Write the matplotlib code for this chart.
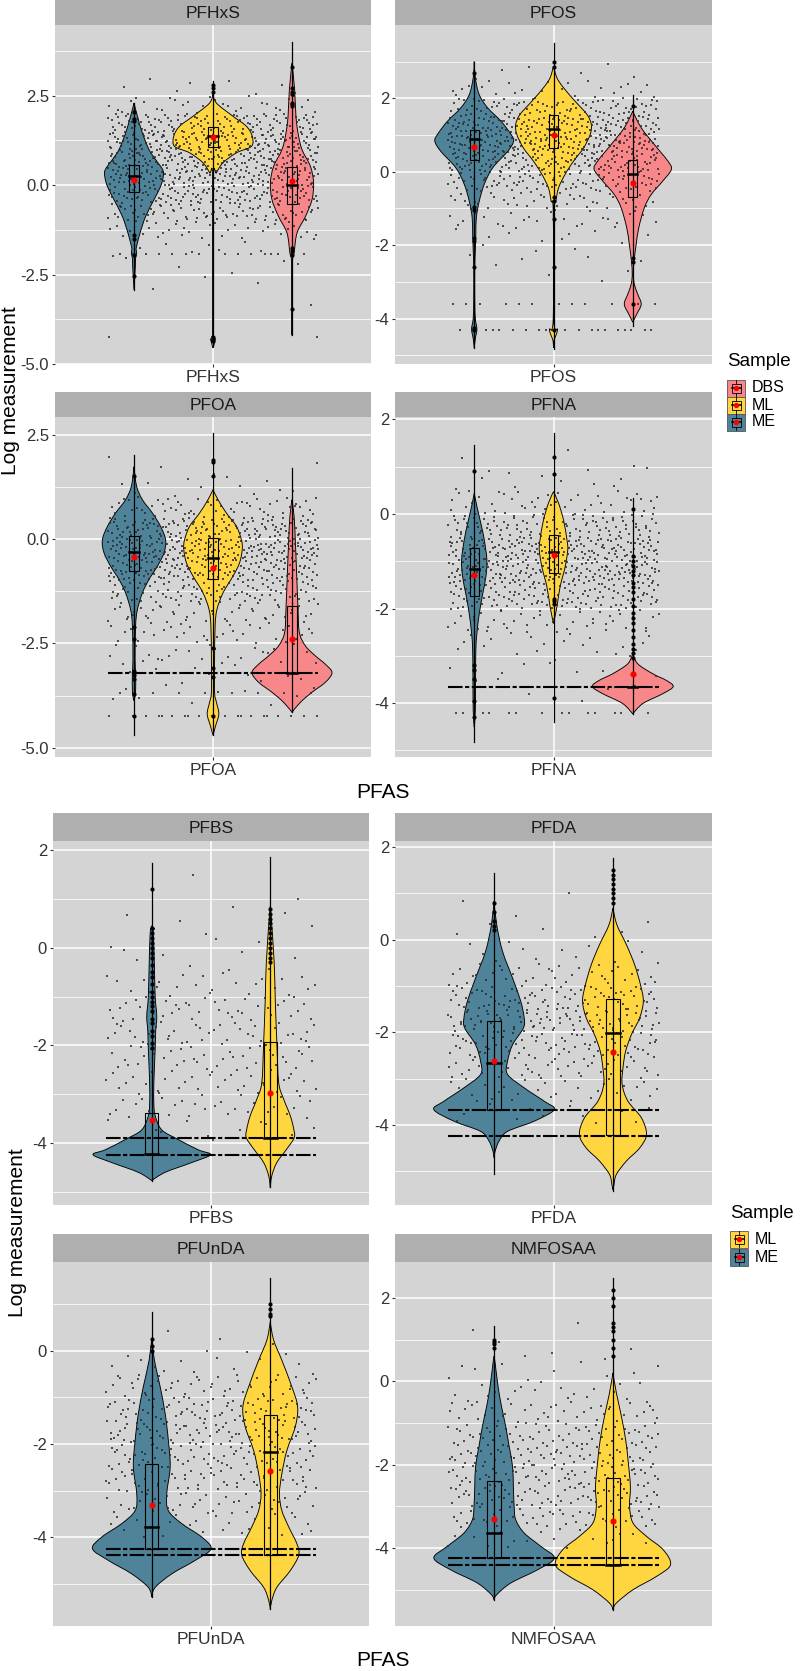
import numpy as np
import matplotlib.pyplot as plt
from matplotlib.patches import Rectangle, PathPatch
from matplotlib.path import Path

plt.rcParams['font.family'] = ['Liberation Sans', 'DejaVu Sans']

# Taille de la figure en pixels
L, H = 802, 1671

COULEURS = {'ME': '#4E8399', 'ML': '#FFD63F', 'DBS': '#F8878A'}
FOND = '#D4D4D4'
BANDEAU = '#AFAFAF'
TEXTE = '#333333'

# ================= Données =================
# violons : (ordonnées, demi-largeurs), boîtes : (q1, médiane, q3),
# étendue : (min, max) du trait vertical, moyenne : point rouge

# ---- PFHxS ----
pfhxs_violons = {
    'ME': ([2.29, 1.92, 1.45, 0.99, 0.71, 0.43, 0.24, -0.04, -0.41, -0.88, -1.34, -1.62, -1.78, -1.9, -2.05, -2.28, -2.93],
           [0, .013, .032, .057, .082, .109, .111, .101, .076, .044, .023, .013, .008, .010, .006, .005, 0]),
    'ML': ([2.57, 2.29, 1.92, 1.64, 1.36, 1.08, 0.9, 0.62, 0.34, 0.1, -4.0, -4.3, -4.55],
           [0, .013, .076, .127, .149, .146, .089, .038, .013, .001, .001, .008, 0]),
    'DBS': ([3.4, 2.67, 1.92, 1.45, 0.99, 0.52, 0.06, -0.41, -0.88, -1.34, -1.9, -2.27, -4.2],
            [0, .010, .015, .023, .038, .070, .082, .076, .051, .019, .008, .001, 0]),
}
pfhxs_boites = {'ME': (-0.2, 0.24, 0.57), 'ML': (1.05, 1.36, 1.62), 'DBS': (-0.52, 0.0, 0.49)}
pfhxs_etendues = {'ME': (-2.93, 2.29), 'ML': (-4.5, 2.9), 'DBS': (-4.2, 4.0)}
pfhxs_moyennes = {'ME': 0.15, 'ML': 1.33, 'DBS': 0.1}
pfhxs_aberrants = {'ME': [2.05, 1.85, 1.78, -1.4, -1.5, -1.95, -2.55],
                   'ML': [2.8, 2.72, 2.6, -4.25, -4.35],
                   'DBS': [3.3, 2.7, 2.6, 2.55, 2.3, 2.25, 2.2, -1.75, -1.85, -1.95, -3.45]}
pfhxs_classes = [2.5, 2.0, 1.5, 1.0, 0.5, 0.0, -0.5, -1.0, -1.5, -2.0, -2.5, -3.0, -3.5]
pfhxs_comptes = [8, 30, 110, 150, 150, 140, 120, 80, 35, 10, 5, 3, 1]
pfhxs_rangees = [(-1.92, 14), (-4.25, 4)]
pfhxs_lod = []

# ---- PFOS ----
pfos_violons = {
    'ME': ([3.0, 2.56, 2.1, 1.74, 1.38, 1.02, 0.83, 0.56, 0.11, -0.34, -0.8, -1.25, -1.7, -2.15, -2.6, -3.5, -4.0, -4.29, -4.55, -4.8],
           [0, .004, .019, .051, .101, .139, .149, .127, .070, .038, .019, .008, .006, .004, .002, .002, .004, .010, .004, 0]),
    'ML': ([2.88, 2.56, 2.29, 1.92, 1.56, 1.29, 1.02, 0.65, 0.29, -0.07, -0.44, -0.8, -1.1, -4.0, -4.3, -4.6, -4.8],
           [0, .013, .038, .082, .127, .143, .139, .114, .076, .044, .019, .009, .001, .001, .015, .002, 0]),
    'DBS': ([1.65, 1.2, 0.74, 0.29, 0.06, -0.25, -0.62, -0.98, -1.52, -1.98, -2.43, -2.8, -3.07, -3.34, -3.61, -3.88, -4.1],
            [0, .032, .082, .133, .146, .114, .070, .044, .023, .013, .005, .002, .006, .019, .032, .015, 0]),
}
pfos_boites = {'ME': (0.31, 0.9, 1.15), 'ML': (0.65, 1.17, 1.56), 'DBS': (-0.69, -0.05, 0.31)}
pfos_etendues = {'ME': (-4.8, 3.0), 'ML': (-4.84, 3.5), 'DBS': (-4.2, 2.1)}
pfos_moyennes = {'ME': 0.67, 'ML': 0.99, 'DBS': -0.3}
pfos_aberrants = {'ME': [2.7, -0.95, -1.05, -1.8, -1.9, -2.6, -4.25, -4.3],
                  'ML': [3.0, 2.85, -0.7, -0.8, -1.3, -2.6, -4.3],
                  'DBS': [1.8, -2.35, -2.45, -3.6]}
pfos_classes = [2.5, 2.0, 1.5, 1.0, 0.5, 0.0, -0.5, -1.0, -1.5, -2.0, -2.5, -3.0]
pfos_comptes = [6, 25, 90, 140, 160, 130, 90, 45, 25, 12, 6, 4]
pfos_rangees = [(-3.6, 12), (-4.3, 20)]
pfos_lod = []

# ---- PFOA ----
pfoa_violons = {
    'ME': ([1.73, 1.26, 0.94, 0.62, 0.3, -0.02, -0.33, -0.65, -0.97, -1.29, -1.69, -2.08, -2.88, -3.2, -3.67, -3.87],
           [0, .010, .032, .070, .101, .120, .114, .089, .057, .032, .013, .006, .004, .006, .006, 0]),
    'ML': ([1.18, 0.94, 0.62, 0.3, -0.02, -0.25, -0.57, -0.89, -1.29, -1.69, -2.08, -2.88, -3.67, -3.91, -4.19, -4.47, -4.7],
           [0, .019, .051, .089, .108, .111, .101, .076, .038, .015, .008, .006, .006, .013, .022, .010, 0]),
    'DBS': ([0.94, 0.54, -0.1, -0.89, -1.69, -2.24, -2.56, -2.8, -3.0, -3.2, -3.43, -3.67, -3.91, -4.15],
            [0, .008, .013, .018, .023, .028, .051, .089, .127, .152, .127, .076, .032, 0]),
}
pfoa_boites = {'ME': (-0.77, -0.32, 0.08), 'ML': (-0.95, -0.45, 0.02), 'DBS': (-3.2, -3.2, -1.61)}
pfoa_etendues = {'ME': (-4.7, 2.0), 'ML': (-4.7, 2.53), 'DBS': (-4.15, 1.69)}
pfoa_moyennes = {'ME': -0.44, 'ML': -0.69, 'DBS': -2.4}
pfoa_aberrants = {'ME': [1.5, -2.1, -2.4, -3.15, -3.25, -3.35, -3.7, -4.25],
                  'ML': [1.9, 1.85, 1.5, -2.6, -3.1, -3.3, -4.25],
                  'DBS': []}
pfoa_classes = [1.5, 1.0, 0.5, 0.0, -0.5, -1.0, -1.5, -2.0, -2.5, -3.0, -3.5, -4.0]
pfoa_comptes = [4, 12, 60, 140, 170, 140, 90, 50, 35, 25, 10, 10]
pfoa_rangees = [(-3.68, 8), (-4.23, 22)]
pfoa_lod = [-3.2]

# ---- PFNA ----
pfna_violons = {
    'ME': ([0.44, 0.16, -0.2, -0.55, -0.98, -1.33, -1.69, -2.11, -2.53, -2.88, -3.45, -4.16, -4.51],
           [0, .010, .025, .038, .048, .044, .032, .019, .010, .006, .005, .004, 0]),
    'ML': ([0.47, 0.23, -0.13, -0.55, -0.76, -1.12, -1.54, -1.96, -2.32],
           [0, .019, .038, .051, .054, .044, .025, .013, 0]),
    'DBS': ([-2.95, -3.17, -3.38, -3.52, -3.65, -3.8, -4.01, -4.23],
            [0, .019, .076, .127, .153, .114, .038, 0]),
}
pfna_boites = {'ME': (-1.74, -1.17, -0.71), 'ML': (-1.24, -0.8, -0.45), 'DBS': (-3.65, -3.65, -3.65)}
pfna_etendues = {'ME': (-4.83, 1.46), 'ML': (-4.4, 1.71), 'DBS': (-4.23, 0.33)}
pfna_moyennes = {'ME': -1.29, 'ML': -0.86, 'DBS': -3.39}
pfna_aberrants = {'ME': [0.9, -3.2, -3.3, -3.5, -3.95, -4.3],
                  'ML': [1.2, 0.85, -1.8, -1.85, -1.9, -3.9],
                  'DBS': [0.1, -0.9, -1.0, -1.1, -1.2, -1.3, -1.45, -1.55, -1.65, -1.8, -1.95,
                          -2.1, -2.2, -2.3, -2.45, -2.6, -2.75, -2.85, -2.95, -3.05]}
pfna_classes = [1.0, 0.5, 0.0, -0.5, -1.0, -1.5, -2.0, -2.5, -3.0, -3.5, -4.0]
pfna_comptes = [3, 12, 45, 110, 170, 170, 110, 50, 20, 10, 5]
pfna_rangees = [(-4.22, 14)]
pfna_lod = [-3.65]

# ---- PFBS ----
pfbs_violons = {
    'ME': ([0.45, 0.3, -0.37, -1.0, -1.4, -1.7, -2.08, -2.76, -3.2, -3.44, -3.73, -3.93, -4.14, -4.24, -4.4, -4.6, -4.77],
           [0, .006, .010, .013, .019, .015, .013, .008, .008, .013, .038, .101, .177, .223, .152, .051, 0]),
    'ML': ([0.85, 0.6, -0.31, -1.06, -1.94, -2.76, -3.1, -3.44, -3.71, -3.89, -4.12, -4.4, -4.67, -4.91],
           [0, .004, .015, .019, .025, .032, .051, .076, .089, .091, .063, .025, .006, 0]),
}
pfbs_boites = {'ME': (-4.23, -4.23, -3.39), 'ML': (-3.89, -3.89, -1.92)}
pfbs_etendues = {'ME': (-4.77, 1.74), 'ML': (-4.91, 1.87)}
pfbs_moyennes = {'ME': -3.52, 'ML': -2.97}
pfbs_aberrants = {'ME': [1.2, 0.4, 0.3, 0.2, 0.1, 0.0, -0.1, -0.2, -0.35, -0.5, -0.6, -0.75, -0.9, -1.0,
                         -1.1, -1.2, -1.3, -1.45, -1.55, -1.7, -1.8, -1.95, -2.05],
                  'ML': [0.8, 0.7, 0.6, 0.5, 0.4, 0.3, 0.2, 0.1, 0.0, -0.1, -0.2, -0.3]}
pfbs_classes = [1.0, 0.5, 0.0, -0.5, -1.0, -1.5, -2.0, -2.5, -3.0, -3.5, -4.0]
pfbs_comptes = [2, 4, 6, 8, 25, 40, 40, 40, 35, 30, 12]
pfbs_rangees = []
pfbs_lod = [-3.89, -4.25]

# ---- PFDA ----
pfda_violons = {
    'ME': ([0.83, 0.32, -0.25, -0.83, -1.33, -1.69, -1.91, -2.27, -2.63, -2.91, -3.2, -3.49, -3.67, -3.92, -4.14, -4.35, -4.57, -4.71],
           [0, .010, .032, .070, .101, .114, .111, .070, .051, .051, .114, .190, .228, .152, .051, .019, .004, 0]),
    'ML': ([0.68, 0.32, -0.11, -0.54, -0.97, -1.33, -1.69, -2.05, -2.41, -2.77, -3.13, -3.49, -3.85, -4.21, -4.5, -4.78, -5.07, -5.29, -5.4],
           [0, .015, .051, .082, .104, .115, .101, .070, .048, .038, .035, .057, .108, .127, .101, .051, .013, .004, 0]),
}
pfda_boites = {'ME': (-3.67, -2.66, -1.75), 'ML': (-4.22, -2.02, -1.29)}
pfda_etendues = {'ME': (-5.07, 1.44), 'ML': (-5.43, 1.76)}
pfda_moyennes = {'ME': -2.63, 'ML': -2.43}
pfda_aberrants = {'ME': [0.8, 0.6, 0.4, 0.3, 0.2],
                  'ML': [1.5, 1.4, 1.3, 1.2, 1.1, 1.0, 0.9, 0.8]}
pfda_classes = [0.5, 0.0, -0.5, -1.0, -1.5, -2.0, -2.5, -3.0, -3.5, -4.0]
pfda_comptes = [3, 6, 12, 40, 80, 90, 70, 50, 30, 12]
pfda_rangees = []
pfda_lod = [-3.67, -4.23]

# ---- PFUnDA ----
pfunda_violons = {
    'ME': ([0.27, -0.2, -0.77, -1.35, -1.92, -2.49, -3.07, -3.43, -3.71, -4.0, -4.25, -4.5, -4.79, -5.08, -5.29],
           [0, .010, .032, .051, .063, .070, .057, .063, .114, .190, .225, .165, .076, .013, 0]),
    'ML': ([0.62, 0.23, -0.2, -0.77, -1.2, -1.63, -2.14, -2.64, -3.07, -3.43, -3.78, -4.14, -4.39, -4.72, -5.08, -5.36, -5.54],
           [0, .013, .044, .082, .104, .095, .063, .044, .035, .044, .070, .101, .108, .076, .025, .006, 0]),
}
pfunda_boites = {'ME': (-4.25, -3.78, -2.44), 'ML': (-4.39, -2.17, -1.37)}
pfunda_etendues = {'ME': (-5.29, 0.84), 'ML': (-5.54, 1.56)}
pfunda_moyennes = {'ME': -3.3, 'ML': -2.57}
pfunda_aberrants = {'ME': [0.25, 0.1, 0.0], 'ML': [1.0, 0.9, 0.8, 0.75]}
pfunda_classes = [0.0, -0.5, -1.0, -1.5, -2.0, -2.5, -3.0, -3.5, -4.0]
pfunda_comptes = [3, 15, 50, 75, 80, 70, 60, 45, 25]
pfunda_rangees = []
pfunda_lod = [-4.25, -4.39]

# ---- NMFOSAA ----
nmfosaa_violons = {
    'ME': ([0.6, 0.44, -0.12, -0.6, -1.08, -1.56, -2.04, -2.52, -3.0, -3.32, -3.64, -3.96, -4.24, -4.52, -4.84, -5.12, -5.24],
           [0, .004, .015, .028, .044, .057, .070, .073, .076, .082, .114, .177, .228, .165, .063, .010, 0]),
    'ML': ([0.2, -0.28, -0.84, -1.4, -1.88, -2.52, -3.0, -3.4, -3.72, -4.04, -4.4, -4.68, -5.0, -5.32, -5.48],
           [0, .013, .032, .048, .057, .066, .063, .076, .127, .190, .218, .165, .076, .013, 0]),
}
nmfosaa_boites = {'ME': (-4.24, -3.64, -2.4), 'ML': (-4.4, -4.4, -2.32)}
nmfosaa_etendues = {'ME': (-5.24, 1.32), 'ML': (-5.48, 2.48)}
nmfosaa_moyennes = {'ME': -3.3, 'ML': -3.34}
nmfosaa_aberrants = {'ME': [1.0, 0.95, 0.9, 0.8], 'ML': [2.2, 2.0, 1.8, 1.4, 1.3, 1.2, 1.0, 0.8, 0.6]}
nmfosaa_classes = [1.0, 0.5, 0.0, -0.5, -1.0, -1.5, -2.0, -2.5, -3.0, -3.5, -4.0]
nmfosaa_comptes = [2, 5, 10, 20, 40, 60, 70, 70, 65, 50, 20]
nmfosaa_rangees = []
nmfosaa_lod = [-4.24, -4.4]

# Graduations des axes y
graduations_25 = [-5.0, -2.5, 0.0, 2.5]
etiquettes_25 = ['-5.0', '-2.5', '0.0', '2.5']
graduations_2 = [-4, -2, 0, 2]
etiquettes_2 = ['-4', '-2', '0', '2']

# ================= Mise en page =================
fig = plt.figure(figsize=(L / 100, H / 100), dpi=100)


def axe(x0, x1, y0, y1):
    return fig.add_axes([x0 / L, 1 - y1 / H, (x1 - x0) / L, (y1 - y0) / H])


def contour_violon(c, ys, ws):
    ys = np.asarray(ys, float)
    ws = np.asarray(ws, float)
    droite = np.column_stack([c + ws, ys])
    gauche = np.column_stack([c - ws, ys])[::-1]
    pts = np.vstack([droite, gauche[1:-1]])
    n = len(pts)
    pointes = {0, len(ys) - 1}
    tang = np.zeros_like(pts)
    for i in range(n):
        if i not in pointes:
            tang[i] = (pts[(i + 1) % n] - pts[i - 1]) / 2
    verts = [pts[0]]
    codes = [Path.MOVETO]
    for i in range(n):
        j = (i + 1) % n
        verts += [pts[i] + tang[i] / 3, pts[j] - tang[j] / 3, pts[j]]
        codes += [Path.CURVE4] * 3
    return Path(verts, codes)


def halton(indices, base):
    res = np.zeros(len(indices))
    f = 1.0
    i = np.array(indices, dtype=float)
    while np.any(i > 0):
        f /= base
        res += f * (i % base)
        i = np.floor(i / base)
    return res


def dispersion(n, depart):
    # positions de dispersion (suite de Halton, bases 2 et 3)
    k = np.arange(depart, depart + n) + 1
    return halton(k, 2), halton(k, 3)


compteur = [37]


def panneau(x0, x1, ys, y0, y1, titre, ylim, grad, etiq, p, decal, lb):
    # bandeau du titre
    bd = axe(x0, x1, ys, y0)
    bd.set_facecolor(BANDEAU)
    bd.set_xticks([])
    bd.set_yticks([])
    for s in bd.spines.values():
        s.set_visible(False)
    bd.text(0.5, 0.45, titre, ha='center', va='center', fontsize=12.5, color='#1a1a1a',
            transform=bd.transAxes)

    ax = axe(x0, x1, y0, y1)
    ax.set_facecolor(FOND)
    for s in ax.spines.values():
        s.set_visible(False)
    ax.set_xlim(0.4, 1.6)
    ax.set_ylim(*ylim)
    ax.set_xticks([1])
    ax.set_xticklabels([titre])
    g = [v for v in grad if ylim[0] <= v <= ylim[1]]
    ax.set_yticks(g)
    ax.set_yticklabels([etiq[grad.index(v)] for v in g])
    pas = grad[1] - grad[0]
    mineurs = np.arange(grad[0] - pas / 2, ylim[1], pas)
    ax.set_yticks([m for m in mineurs if ylim[0] <= m <= ylim[1]], minor=True)
    ax.tick_params(which='major', length=2.3, width=0.8, color=TEXTE, labelsize=12,
                   labelcolor=TEXTE, pad=2)
    ax.tick_params(axis='x', labelsize=12.5)
    ax.tick_params(which='minor', length=0)
    ax.grid(which='major', color='white', lw=1.1)
    ax.grid(which='minor', axis='y', color='white', lw=0.55)
    ax.set_axisbelow(True)

    # violons
    for grp, c in decal.items():
        yv, wv = p['violons'][grp]
        ax.add_patch(PathPatch(contour_violon(1 + c, yv, wv), facecolor=COULEURS[grp],
                               edgecolor='black', lw=0.65, zorder=2))

    # nuage de points (dispersion horizontale)
    xs, yp = [], []
    for bas, n in zip(p['classes'], p['comptes']):
        u, v = dispersion(n, compteur[0])
        compteur[0] += n
        xs.append(0.6 + 0.8 * u)
        yp.append(bas + 0.5 * v)
    for yr, n in p['rangees']:
        u, v = dispersion(n, compteur[0])
        compteur[0] += n
        xs.append(0.6 + 0.8 * u)
        yp.append(np.full(n, yr))
    ax.scatter(np.concatenate(xs), np.concatenate(yp), s=3.0, marker='s', color='#2a2a2a',
               alpha=0.8, linewidths=0, zorder=3)

    # limites de détection
    for yl in p['lod']:
        ax.plot([0.6, 1.4], [yl, yl], color='black', lw=1.5, ls=(0, (7, 1.2, 2, 1.2)), zorder=4)

    # boîtes à moustaches
    for grp, c in decal.items():
        xc = 1 + c
        lo, hi = p['etendues'][grp]
        ax.plot([xc, xc], [lo, hi], color='black', lw=0.9, zorder=5)
        q1, med, q3 = p['boites'][grp]
        ax.add_patch(Rectangle((xc - lb / 2, q1), lb, q3 - q1, fill=False, edgecolor='black',
                               lw=0.8, zorder=6))
        ax.plot([xc - lb / 2, xc + lb / 2], [med, med], color='black', lw=1.8, zorder=6)
        ab = p['aberrants'][grp]
        if ab:
            ax.plot([xc] * len(ab), ab, 'o', color='black', ms=2.0, zorder=6)
        ax.plot([xc], [p['moyennes'][grp]], 'o', color='#FF0000', ms=3.4, zorder=7)
    return ax


def donnees(prefixe):
    g = globals()
    return {cle: g[prefixe + '_' + cle] for cle in
            ['violons', 'boites', 'etendues', 'moyennes', 'aberrants', 'classes', 'comptes', 'rangees', 'lod']}


trois = {'ME': -0.3, 'ML': 0.0, 'DBS': 0.3}
deux = {'ME': -0.225, 'ML': 0.225}

# figure du haut
panneau(55, 371, 0, 25, 364, 'PFHxS', (-5.0, 4.47), graduations_25, etiquettes_25, donnees('pfhxs'), trois, 0.035)
panneau(395, 712, 0, 25, 364, 'PFOS', (-5.24, 4.0), graduations_2, etiquettes_2, donnees('pfos'), trois, 0.035)
panneau(55, 371, 392, 417, 757, 'PFOA', (-5.22, 2.92), graduations_25, etiquettes_25, donnees('pfoa'), trois, 0.035)
panneau(395, 712, 392, 417, 757, 'PFNA', (-5.14, 2.05), graduations_2, etiquettes_2, donnees('pfna'), trois, 0.035)

# figure du bas
panneau(53, 369, 813, 841, 1205, 'PFBS', (-5.27, 2.19), graduations_2, etiquettes_2, donnees('pfbs'), deux, 0.05)
panneau(395, 712, 813, 841, 1205, 'PFDA', (-5.73, 2.13), graduations_2, etiquettes_2, donnees('pfda'), deux, 0.05)
panneau(53, 369, 1234, 1262, 1626, 'PFUnDA', (-5.91, 1.91), graduations_2, etiquettes_2, donnees('pfunda'), deux, 0.05)
panneau(395, 712, 1234, 1262, 1626, 'NMFOSAA', (-5.87, 2.86), graduations_2, etiquettes_2, donnees('nmfosaa'), deux, 0.05)

# calque pour titres et légendes (coordonnées en pixels)
ov = fig.add_axes([0, 0, 1, 1])
ov.set_xlim(0, L)
ov.set_ylim(H, 0)
ov.axis('off')
ov.patch.set_alpha(0)

ov.text(11, 391, 'Log measurement', rotation=90, ha='center', va='center', fontsize=15, color='black')
ov.text(383, 792, 'PFAS', ha='center', va='center', fontsize=15, color='black')
ov.text(18, 1233, 'Log measurement', rotation=90, ha='center', va='center', fontsize=15, color='black')
ov.text(383, 1661, 'PFAS', ha='center', va='center', fontsize=15, color='black')


def legende(x, y_titre, groupes, y_cles):
    ov.text(x, y_titre, 'Sample', ha='left', va='center', fontsize=13.5, color='black')
    for grp, yc in zip(groupes, y_cles):
        ov.add_patch(Rectangle((x, yc - 8.5), 18, 17, facecolor=COULEURS[grp], edgecolor='#555555', lw=0.6))
        ov.add_patch(Rectangle((x + 4.5, yc - 4.5), 9, 9, fill=False, edgecolor='black', lw=0.6))
        ov.plot([x + 4.5, x + 13.5], [yc, yc], color='black', lw=1.1)
        ov.plot([x + 9, x + 9], [yc - 8, yc - 4.5], color='black', lw=0.6)
        ov.plot([x + 9, x + 9], [yc + 4.5, yc + 8], color='black', lw=0.6)
        ov.plot([x + 9], [yc], 'o', color='#FF0000', ms=2.8)
        ov.text(x + 25, yc, grp, ha='left', va='center', fontsize=11.5, color='black')


legende(727, 362, ['DBS', 'ML', 'ME'], [388, 405, 422])
legende(730, 1213, ['ML', 'ME'], [1239, 1257])

plt.savefig('out.png', dpi=100)
